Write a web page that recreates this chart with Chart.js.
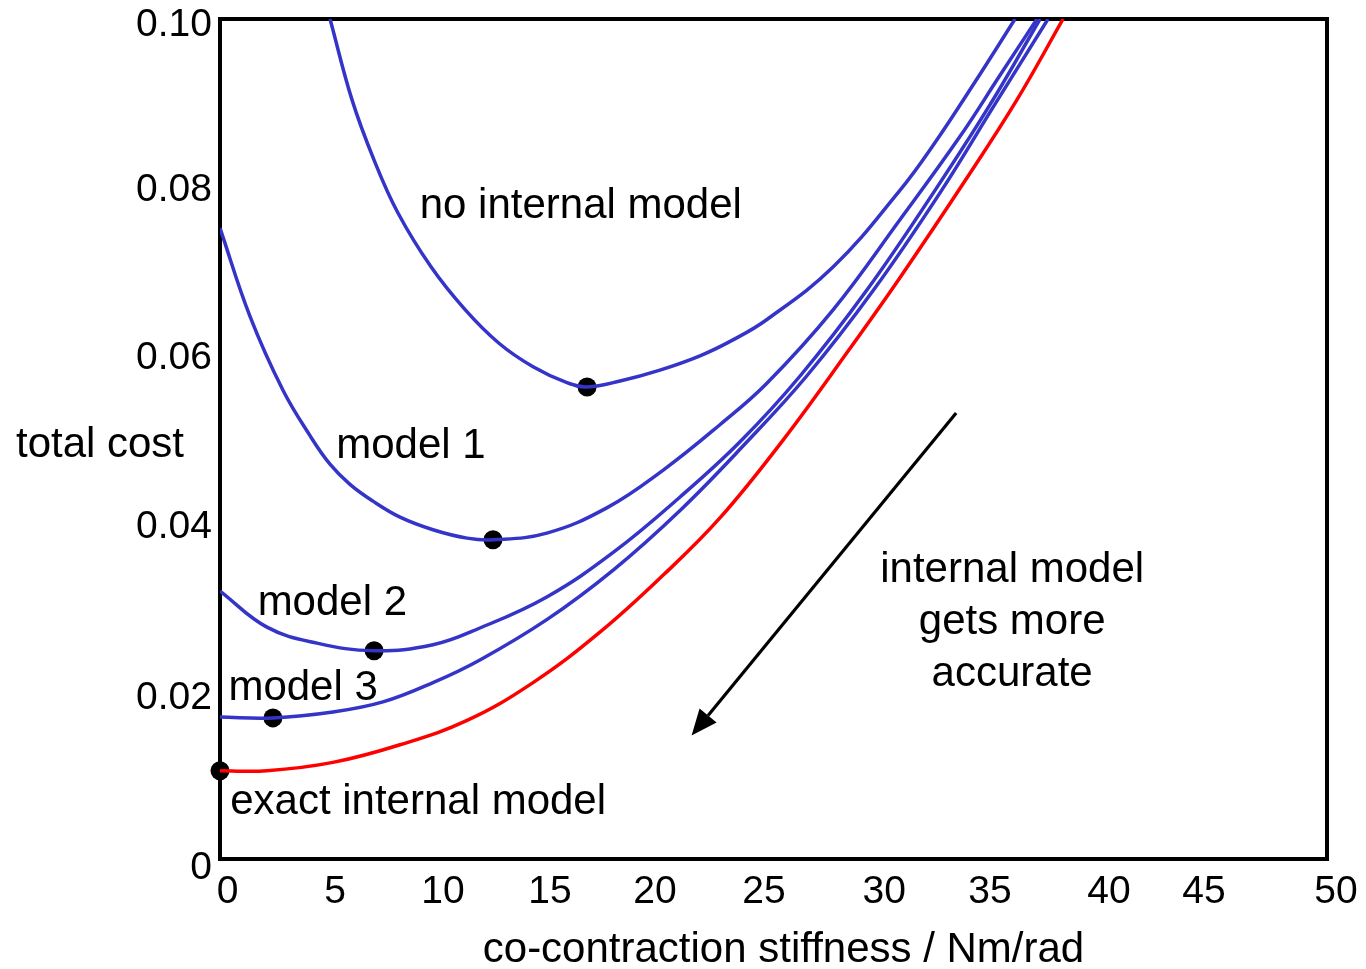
<!DOCTYPE html>
<html>
<head>
<meta charset="utf-8">
<title>Total cost vs co-contraction stiffness</title>
<script src="https://cdn.jsdelivr.net/npm/chart.js@4.4.1/dist/chart.umd.min.js"></script>
<style>
  html, body { margin: 0; padding: 0; background: #ffffff; }
  #wrap { width: 1366px; height: 969px; }
</style>
</head>
<body>
<div id="wrap"><canvas id="chart" width="1366" height="969"></canvas></div>
<script>
// ---- tick labels ----
const xTickLabels = ['0', '5', '10', '15', '20', '25', '30', '35', '40', '45', '50'];
const yTickLabels = ['0', '0.02', '0.04', '0.06', '0.08', '0.10'];

// ---- cost curves (stiffness in Nm/rad, total cost) ----
const noModelK    = [4.97, 5.96, 6.96, 8.04, 9.53, 11.07, 12.60, 14.14, 15.67, 16.58, 18.07, 19.87, 21.68, 23.17, 24.69, 27.70, 30.71, 32.22, 34.10, 35.91];
const noModelCost = [0.1, 0.0904, 0.0832, 0.0769, 0.0705, 0.0654, 0.0614, 0.0586, 0.0567, 0.0562, 0.0569, 0.0582, 0.0599, 0.0618, 0.0642, 0.0705, 0.0796, 0.0850, 0.0925, 0.1];

const model1K    = [0, 1.355, 2.845, 4.065, 4.968, 5.87, 6.91, 8.13, 9.62, 11.16, 12.33, 14.76, 17.47, 20.02, 22.58, 24.69, 27.70, 30.71, 33.42, 35.23, 36.9];
const model1Cost = [0.0751, 0.0646, 0.0558, 0.0504, 0.0470, 0.0446, 0.0426, 0.0407, 0.0392, 0.0382, 0.0380, 0.0388, 0.0418, 0.0463, 0.0517, 0.0566, 0.0654, 0.0761, 0.0860, 0.0933, 0.1];

const model2K    = [0, 2.12, 4.38, 6.96, 9.62, 11.74, 14.76, 17.76, 20.78, 23.5, 26.2, 29.21, 32.22, 34.78, 37.04];
const model2Cost = [0.0319, 0.0276, 0.0257, 0.0248, 0.0255, 0.0275, 0.0312, 0.0365, 0.0431, 0.0497, 0.0575, 0.0677, 0.0793, 0.0898, 0.1];

const model3K    = [0, 2.39, 5.10, 7.36, 9.62, 11.74, 14.76, 17.76, 20.78, 23.6, 26.5, 29.51, 32.52, 34.99, 37.4];
const model3Cost = [0.0169, 0.0168, 0.0175, 0.0187, 0.0210, 0.0237, 0.0285, 0.0344, 0.0415, 0.0491, 0.0575, 0.0677, 0.0793, 0.0898, 0.1];

const exactK    = [0, 2.12, 5.10, 8.13, 11.16, 14.14, 17.16, 20.02, 22.58, 25.44, 28.46, 30.71, 33.74, 36.0, 38.08];
const exactCost = [0.0105, 0.0105, 0.0115, 0.0136, 0.0165, 0.0210, 0.0270, 0.0338, 0.0406, 0.0499, 0.0608, 0.0692, 0.0811, 0.0904, 0.1];

// ---- optimum (minimum-cost) stiffness for each model ----
const optimumK    = [16.58, 12.33, 6.96, 2.39, 0];
const optimumCost = [0.0562, 0.0380, 0.0248, 0.0168, 0.0105];

// ---- curve labels, placed in data units (left edge, baseline) ----
const curveLabels = [
  { text: 'no internal model',    k: 9.02, cost: 0.0763 },
  { text: 'model 1',              k: 5.25, cost: 0.0477 },
  { text: 'model 2',              k: 1.70, cost: 0.0290 },
  { text: 'model 3',              k: 0.38, cost: 0.0189 },
  { text: 'exact internal model', k: 0.46, cost: 0.0054 }
];
const noteLines = ['internal model', 'gets more', 'accurate'];
const noteAnchor = { k: 35.78, cost: 0.0330 };   // centre / first baseline
const arrowFrom = { k: 33.25, cost: 0.0531 };
const arrowTo   = { k: 21.30, cost: 0.0147 };

const BLUE = '#3434c8';
const RED = '#ff0000';
const FONT = '"Liberation Sans", Arial, Helvetica, sans-serif';

// small per-label nudges so the axis numbers sit where the figure puts them
const xLabelNudge = [7.5, 4.3, 1.6, -2.1, -7.8, -9.5, 0, -4.9, 3.4, -12.3, 9];
const yLabelNudge = [9, 7, 4, 3, 3, 6];

function pts(ks, cs) { return ks.map((k, i) => ({ x: k, y: cs[i] })); }

function curve(label, ks, cs, color) {
  return {
    label, data: pts(ks, cs), showLine: true,
    borderColor: color, borderWidth: 3.5, pointRadius: 0,
    tension: 0.4, capBezierPoints: false, fill: false
  };
}

const framePlugin = {
  id: 'frame',
  beforeDatasetsDraw(chart) {
    const { ctx, chartArea: a } = chart;
    ctx.save();
    ctx.strokeStyle = '#000';
    ctx.lineWidth = 4;
    ctx.strokeRect(a.left, a.top, a.right - a.left, a.bottom - a.top);
    ctx.restore();
  }
};

// axis numbers, drawn from the tick label arrays through the scales
const tickLabelPlugin = {
  id: 'tickLabels',
  afterDraw(chart) {
    const { ctx, chartArea: a } = chart;
    const xs = chart.scales.x, ys = chart.scales.y;
    ctx.save();
    ctx.fillStyle = '#000';
    ctx.font = '39px ' + FONT;
    ctx.textBaseline = 'middle';
    ctx.textAlign = 'center';
    xTickLabels.forEach((t, i) => {
      ctx.fillText(t, xs.getPixelForValue(parseFloat(t)) + xLabelNudge[i], a.bottom + 33);
    });
    ctx.textAlign = 'right';
    yTickLabels.forEach((t, i) => {
      ctx.fillText(t, a.left - 8, ys.getPixelForValue(parseFloat(t)) + yLabelNudge[i]);
    });
    ctx.restore();
  }
};

const textPlugin = {
  id: 'texts',
  afterDatasetsDraw(chart) {
    const { ctx, chartArea: a } = chart;
    const xs = chart.scales.x, ys = chart.scales.y;
    ctx.save();
    ctx.fillStyle = '#000';
    ctx.font = '42px ' + FONT;
    ctx.textBaseline = 'alphabetic';

    ctx.textAlign = 'left';
    curveLabels.forEach(l => ctx.fillText(l.text, xs.getPixelForValue(l.k), ys.getPixelForValue(l.cost)));

    ctx.textAlign = 'center';
    const cx = xs.getPixelForValue(noteAnchor.k);
    const y0 = ys.getPixelForValue(noteAnchor.cost);
    noteLines.forEach((t, i) => ctx.fillText(t, cx, y0 + i * 52));

    // axis titles
    ctx.fillText('total cost', a.left - 120, ys.getPixelForValue(0.0478));
    ctx.fillText('co-contraction stiffness / Nm/rad', (a.left + a.right) / 2 + 10, 962);

    // arrow
    const x1 = xs.getPixelForValue(arrowFrom.k), y1 = ys.getPixelForValue(arrowFrom.cost);
    const x2 = xs.getPixelForValue(arrowTo.k),   y2 = ys.getPixelForValue(arrowTo.cost);
    const ang = Math.atan2(y2 - y1, x2 - x1);
    const headLen = 26, headHalf = 11;
    const bx = x2 - headLen * Math.cos(ang), by = y2 - headLen * Math.sin(ang);
    ctx.strokeStyle = '#000';
    ctx.lineWidth = 3.2;
    ctx.beginPath();
    ctx.moveTo(x1, y1);
    ctx.lineTo(bx, by);
    ctx.stroke();
    ctx.beginPath();
    ctx.moveTo(x2, y2);
    ctx.lineTo(bx + headHalf * Math.sin(ang), by - headHalf * Math.cos(ang));
    ctx.lineTo(bx - headHalf * Math.sin(ang), by + headHalf * Math.cos(ang));
    ctx.closePath();
    ctx.fill();
    ctx.restore();
  }
};

new Chart(document.getElementById('chart'), {
  type: 'scatter',
  data: {
    datasets: [
      curve('no internal model', noModelK, noModelCost, BLUE),
      curve('model 1', model1K, model1Cost, BLUE),
      curve('model 2', model2K, model2Cost, BLUE),
      curve('model 3', model3K, model3Cost, BLUE),
      curve('exact internal model', exactK, exactCost, RED),
      {
        label: 'optimum', data: pts(optimumK, optimumCost), showLine: false,
        pointRadius: 9.5, pointBackgroundColor: '#000', pointBorderWidth: 0,
        clip: false
      }
    ]
  },
  options: {
    responsive: false,
    animation: false,
    devicePixelRatio: 1,
    layout: { padding: { top: 19, right: 39, left: 0, bottom: 0 } },
    plugins: { legend: { display: false }, tooltip: { enabled: false } },
    events: [],
    scales: {
      x: {
        type: 'linear', min: 0, max: 50,
        afterFit(s) { s.height = 110; s.paddingLeft = 0; s.paddingRight = 0; },
        grid: { display: false, drawTicks: false },
        border: { display: false },
        ticks: { stepSize: 5, display: false }
      },
      y: {
        type: 'linear', min: 0, max: 0.1,
        afterFit(s) { s.width = 220; s.paddingTop = 0; s.paddingBottom = 0; },
        grid: { display: false, drawTicks: false },
        border: { display: false },
        ticks: { stepSize: 0.02, display: false }
      }
    }
  },
  plugins: [framePlugin, textPlugin, tickLabelPlugin]
});
</script>
</body>
</html>
